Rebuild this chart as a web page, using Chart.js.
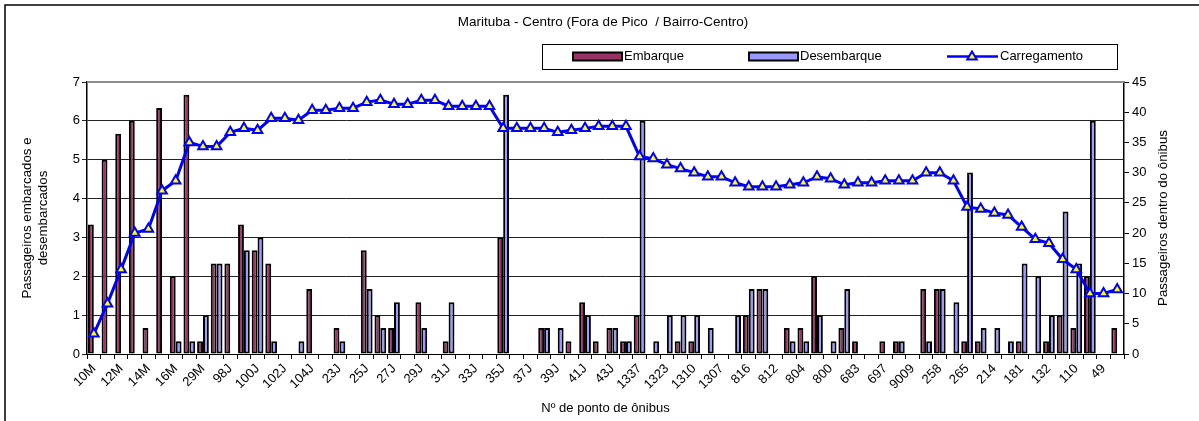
<!DOCTYPE html>
<html>
<head>
<meta charset="utf-8">
<script src="https://cdn.jsdelivr.net/npm/chart.js@4.4.1/dist/chart.umd.min.js"></script>
<style>
  html, body { margin: 0; padding: 0; background: #fff; }
  #wrap { width: 1199px; height: 421px; position: relative; }
</style>
</head>
<body>
<div id="wrap"><canvas id="c" width="1199" height="421"></canvas></div>
<script>
// Bus stops along the route (every other one is labelled on the axis)
const stops = [
  '10M','11M','12M','13M','14M','15M','16M','17M','29M','30M',
  '98J','99J','100J','101J','102J','103J','104J','22J','23J','24J',
  '25J','26J','27J','28J','29J','30J','31J','32J','33J','34J',
  '35J','36J','37J','38J','39J','40J','41J','42J','43J','44J',
  '1337','1330','1323','1315','1310','1308','1307','818','816','814',
  '812','808','804','802','800','690','683','685','697','9007',
  '9009','9011','258','260','265','270','214','212','181','150',
  '132','120','110','50','49','48'
];

// Passengers boarding at each stop
const embarque = [
  3.33, 5, 5.67, 6, 0.67, 6.33, 2, 6.67, 0.33, 2.33,
  2.33, 3.33, 2.67, 2.33, 0, 0, 1.67, 0, 0.67, 0,
  2.67, 1, 0.67, 0, 1.33, 0, 0.33, 0, 0, 0,
  3, 0, 0, 0.67, 0, 0.33, 1.33, 0.33, 0.67, 0.33,
  1, 0, 0, 0.33, 0.33, 0, 0, 0, 1, 1.67,
  0, 0.67, 0.67, 2, 0, 0.67, 0.33, 0, 0.33, 0.33,
  0, 1.67, 1.67, 0, 0.33, 0.33, 0, 0, 0.33, 0,
  0.33, 1, 0.67, 2, 0, 0.67
];

// Passengers alighting at each stop
const desembarque = [
  0, 0, 0, 0, 0, 0, 0.33, 0.33, 1, 2.33,
  0, 2.67, 3, 0.33, 0, 0.33, 0, 0, 0.33, 0,
  1.67, 0.67, 1.33, 0, 0.67, 0, 1.33, 0, 0, 0,
  6.67, 0, 0, 0.67, 0.67, 0, 1, 0, 0.67, 0.33,
  6, 0.33, 1, 1, 1, 0.67, 0, 1, 1.67, 1.67,
  0, 0.33, 0.33, 1, 0.33, 1.67, 0, 0, 0, 0.33,
  0, 0.33, 1.67, 1.33, 4.67, 0.67, 0.67, 0.33, 2.33, 2,
  1, 3.67, 2.33, 6, 0, 0
];

// Passengers on board after each stop
const carregamento = [
  3.33, 8.33, 14, 20, 20.67, 27, 28.67, 35, 34.33, 34.33,
  36.67, 37.33, 37, 39, 39, 38.67, 40.33, 40.33, 40.67, 40.67,
  41.67, 42, 41.33, 41.33, 42, 42, 41, 41, 41, 41,
  37.33, 37.33, 37.33, 37.33, 36.67, 37, 37.33, 37.67, 37.67, 37.67,
  32.67, 32.33, 31.33, 30.67, 30, 29.33, 29.33, 28.33, 27.67, 27.67,
  27.67, 28, 28.33, 29.33, 29, 28, 28.33, 28.33, 28.67, 28.67,
  28.67, 30, 30, 28.67, 24.33, 24, 23.33, 23, 21, 19,
  18.33, 15.67, 14, 10, 10, 10.67
];

const leftAxisRange = [0, 7];
const rightAxisRange = [0, 45];
const rightAxisStep = 5;

const FONT = '"Liberation Sans", Arial, sans-serif';
Chart.defaults.font.family = FONT;
Chart.defaults.font.size = 13;
Chart.defaults.color = '#000';

// Frame, chart title, axis titles and legend box
const decor = {
  id: 'decor',
  beforeDraw(chart) {
    const ctx = chart.ctx;
    ctx.save();
    ctx.fillStyle = '#fff';
    ctx.fillRect(0, 0, chart.width, chart.height);
    ctx.strokeStyle = '#000';
    ctx.lineWidth = 1.5;
    ctx.beginPath();
    ctx.moveTo(5, chart.height + 2);
    ctx.lineTo(5, 5);
    ctx.lineTo(chart.width + 2, 5);
    ctx.stroke();
    ctx.restore();
  },
  beforeDatasetsDraw(chart) {
    const ctx = chart.ctx, a = chart.chartArea;
    ctx.save();
    ctx.strokeStyle = '#8c8c8c';
    ctx.lineWidth = 2;
    ctx.beginPath();
    ctx.moveTo(a.left, a.top);
    ctx.lineTo(a.right, a.top);
    ctx.stroke();
    ctx.restore();
  },
  afterDraw(chart) {
    const ctx = chart.ctx, a = chart.chartArea;
    ctx.save();
    ctx.fillStyle = '#000';
    ctx.textBaseline = 'middle';
    ctx.textAlign = 'center';

    ctx.font = '13.5px ' + FONT;
    ctx.fillText('Marituba - Centro (Fora de Pico  / Bairro-Centro)', 603, 22);

    ctx.font = '13px ' + FONT;
    ctx.fillText('Nº de ponto de ônibus', (a.left + a.right) / 2, 408);

    const midY = (a.top + a.bottom) / 2;
    ctx.font = '13.3px ' + FONT;
    ctx.save();
    ctx.translate(27, midY);
    ctx.rotate(-Math.PI / 2);
    ctx.fillText('Passageiros embarcados e', 0, 0);
    ctx.fillText('desembarcados', 0, 16);
    ctx.restore();

    ctx.save();
    ctx.translate(1163, midY);
    ctx.rotate(-Math.PI / 2);
    ctx.fillText('Passageiros dentro do ônibus', 0, 0);
    ctx.restore();

    // legend
    ctx.font = '13px ' + FONT;
    const ly = 56.5;
    ctx.strokeStyle = '#000';
    ctx.lineWidth = 1;
    ctx.strokeRect(542.5, 44.5, 575, 25);
    const ds = chart.data.datasets;
    const swatchX = [573, 749];
    ctx.textAlign = 'left';
    [0, 1].forEach(i => {
      const x = swatchX[i];
      ctx.fillStyle = ds[i].backgroundColor;
      ctx.fillRect(x, ly - 4, 49, 8);
      ctx.lineWidth = 2;
      ctx.strokeStyle = '#000';
      ctx.strokeRect(x, ly - 4, 49, 8);
      ctx.fillStyle = '#000';
      ctx.fillText(ds[i].label, x + 51, ly);
    });
    const l = ds[2];
    ctx.strokeStyle = l.borderColor;
    ctx.lineWidth = 2.5;
    ctx.beginPath();
    ctx.moveTo(947, ly);
    ctx.lineTo(998, ly);
    ctx.stroke();
    const tx = 972, r = 5;
    ctx.beginPath();
    ctx.moveTo(tx, ly - r);
    ctx.lineTo(tx + r * 0.95, ly + r * 0.6);
    ctx.lineTo(tx - r * 0.95, ly + r * 0.6);
    ctx.closePath();
    ctx.fillStyle = l.pointBackgroundColor;
    ctx.fill();
    ctx.lineWidth = 2;
    ctx.strokeStyle = l.pointBorderColor;
    ctx.stroke();
    ctx.fillStyle = '#000';
    ctx.fillText(l.label, 1000, ly);
    ctx.restore();
  }
};

new Chart(document.getElementById('c'), {
  type: 'bar',
  data: {
    labels: stops,
    datasets: [
      {
        label: 'Embarque',
        data: embarque,
        yAxisID: 'y',
        backgroundColor: '#993366',
        borderColor: '#000',
        borderWidth: 2,
        borderSkipped: false,
        categoryPercentage: 0.86,
        barPercentage: 1.0,
        order: 1
      },
      {
        label: 'Desembarque',
        data: desembarque,
        yAxisID: 'y',
        backgroundColor: '#9999ff',
        borderColor: '#000',
        borderWidth: 2,
        borderSkipped: false,
        categoryPercentage: 0.86,
        barPercentage: 1.0,
        order: 1
      },
      {
        type: 'line',
        label: 'Carregamento',
        data: carregamento,
        yAxisID: 'y1',
        borderColor: '#0000ff',
        borderWidth: 3,
        tension: 0,
        pointStyle: 'triangle',
        pointRadius: 5.5,
        pointBorderWidth: 2,
        pointBackgroundColor: '#ffff00',
        pointBorderColor: '#0000ff',
        order: 0
      }
    ]
  },
  options: {
    responsive: false,
    animation: false,
    devicePixelRatio: 1,
    layout: { padding: { top: 82, left: 0, right: 0, bottom: 0 } },
    plugins: {
      legend: { display: false },
      title: { display: false },
      tooltip: { enabled: false }
    },
    scales: {
      x: {
        offset: true,
        grid: { offset: true, drawOnChartArea: false, drawTicks: true, tickLength: 5, color: '#000' },
        border: { color: '#000', width: 1 },
        ticks: {
          autoSkip: false,
          minRotation: 45,
          maxRotation: 45,
          padding: 2,
          font: { size: 13 },
          callback: (v, i) => (i % 2 === 0 ? stops[i] : '')
        },
        afterFit: s => { s.height = 67; }
      },
      y: {
        position: 'left',
        min: leftAxisRange[0],
        max: leftAxisRange[1],
        ticks: { stepSize: 1, padding: 2 },
        grid: { color: '#222', lineWidth: 1, tickLength: 5 },
        border: { color: '#000', width: 1.5 },
        afterFit: s => { s.width = 87; }
      },
      y1: {
        position: 'right',
        min: rightAxisRange[0],
        max: rightAxisRange[1],
        ticks: { stepSize: rightAxisStep, padding: 3 },
        grid: { drawOnChartArea: false, color: '#000', tickLength: 5 },
        border: { color: '#000', width: 1.5 },
        afterFit: s => { s.width = 75; }
      }
    }
  },
  plugins: [decor]
});
</script>
</body>
</html>
